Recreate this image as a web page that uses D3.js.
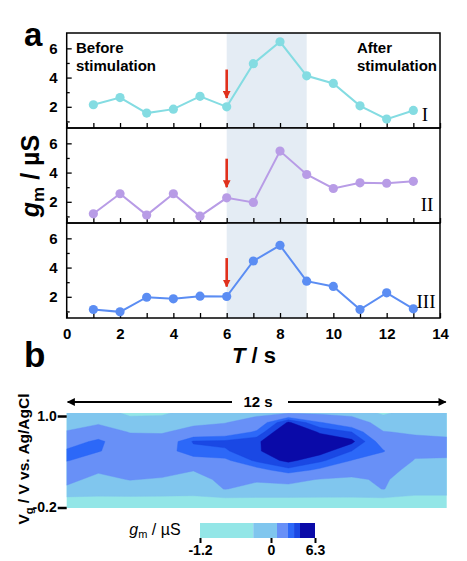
<!DOCTYPE html>
<html><head><meta charset="utf-8">
<script src="https://cdn.jsdelivr.net/npm/d3@7/dist/d3.min.js"></script>
<style>body{margin:0;background:#fff}svg{display:block}</style>
</head><body>
<svg id="c" width="467" height="561"></svg>
<script>
// ---------- data ----------
const timeSec = [1,2,3,4,5,6,7,8,9,10,11,12,13];
const seriesI   = [2.14, 2.63, 1.57, 1.84, 2.72, 2.00, 4.95, 6.45, 4.12, 3.60, 2.07, 1.16, 1.75];
const seriesII  = [1.18, 2.55, 1.09, 2.55, 1.02, 2.27, 1.96, 5.47, 3.87, 2.91, 3.30, 3.27, 3.40];
const seriesIII = [1.13, 0.97, 1.97, 1.86, 2.04, 2.02, 4.45, 5.52, 3.07, 2.71, 1.13, 2.27, 1.18];
const seriesNames = ["I", "II", "III"];
const xTicks = [0,1,2,3,4,5,6,7,8,9,10,11,12,13,14];
const yTicks = [2,4,6];
const yMinorTicks = [1,3,5];
const stimWindow = [6, 9];
const arrowFrom = [4.55, 4.95, 4.65];
const arrowTo = [2.6, 3.0, 2.7];

// panel b: contour map, rows = Vg from 1.0 to -0.2, cols = time 0..12 s
const heatTime = [0,1,2,3,4,5,6,7,8,9,10,11,12];
const heatVg = [1.0, 0.88, 0.76, 0.64, 0.52, 0.40, 0.28, 0.16, 0.04, -0.08, -0.2];
const gmGrid = [
  [ 0.4, 0.4,-0.6,-0.5, 0.2, 0.3, 0.5, 0.8, 0.6, 0.5,-0.5, 0.3, 0.3],
  [ 0.6, 0.7, 0.3, 0.3, 0.6, 0.8, 1.5, 4.3, 2.5, 1.5, 0.4, 0.5, 0.5],
  [ 0.9, 1.5, 0.8, 0.75,1.3, 1.6, 2.6, 5.5, 4.0, 3.3, 0.9, 0.75,0.7],
  [ 1.8, 2.7, 1.4, 1.4, 3.4, 3.5, 3.9, 5.8, 5.0, 4.4, 1.8, 1.1, 1.0],
  [ 2.6, 2.5, 1.8, 1.9, 3.0, 3.2, 3.9, 5.6, 4.6, 3.3, 2.5, 1.1, 1.0],
  [ 2.5, 1.8, 1.8, 1.8, 2.0, 2.2, 3.5, 4.4, 3.5, 2.4, 1.8, 0.8, 0.8],
  [ 1.5, 1.0, 1.5, 1.3, 0.9, 1.4, 2.0, 3.0, 2.2, 1.3, 1.3, 0.5, 0.5],
  [ 1.1, 0.6, 0.9, 0.75,0.5, 1.1, 1.0, 1.2, 0.8, 0.7, 1.0, 0.3, 0.3],
  [ 0.7, 0.3, 0.4, 0.3, 0.2, 0.9, 0.5, 0.5, 0.4, 0.3, 0.9, 0.1, 0.1],
  [-0.5,-0.5,-0.5,-0.5,-0.5,-0.4,-0.4,-0.4,-0.4,-0.4,-0.4,-0.5,-0.5],
  [-0.9,-0.9,-0.9,-0.9,-0.9,-0.9,-0.9,-0.9,-0.9,-0.9,-0.9,-0.9,-0.9]
];
const gmLevels = [-1.2, -0.3, 0.86, 2.43, 3.3, 4.15];
const gmColors = ["#93e6e7", "#80c6ee", "#6890f7", "#2c68f8", "#1a48e4", "#0a0aa8"];
const cbTickValues = [-1.2, 0, 6.3];

// ---------- layout ----------
const FONT = "Arial, 'Liberation Sans', sans-serif";
const SERIF = "'Times New Roman', 'Liberation Serif', serif";
const svg = d3.select("#c");
const L = 66.7, R = 440, T0 = 33, PH = 95;
const x = d3.scaleLinear().domain([0, 14]).range([L, R]);
const series = [seriesI, seriesII, seriesIII];
const colors = ["#84dce2", "#b89ce6", "#5b8df3"];
const numPos = [[425, 121], [427, 211], [426, 308]];

svg.append("defs").append("marker").attr("id","ah")
  .attr("viewBox","0 0 10 10").attr("refX",9).attr("refY",5)
  .attr("markerWidth",3).attr("markerHeight",3.2).attr("orient","auto")
  .append("path").attr("d","M0,0L10,5L0,10z").attr("fill","#e0301c");

series.forEach((vals, i) => {
  const top = T0 + i * PH, bot = top + PH;
  const y = d3.scaleLinear().domain([0.55, 7.05]).range([bot, top]);
  const g = svg.append("g");
  g.append("rect").attr("x", x(stimWindow[0])).attr("y", top)
    .attr("width", x(stimWindow[1]) - x(stimWindow[0])).attr("height", PH)
    .attr("fill", "#e4ecf4");
  const yAx = g.append("g").attr("transform", `translate(${L},0)`)
    .call(d3.axisLeft(y).tickValues(yTicks).tickSize(-5).tickPadding(9).tickFormat(d3.format("d")));
  const yAx2 = g.append("g").attr("transform", `translate(${L},0)`)
    .call(d3.axisLeft(y).tickValues(yMinorTicks).tickSize(-3).tickFormat(""));
  const xAx = g.append("g").attr("transform", `translate(0,${bot})`)
    .call(d3.axisBottom(x).tickValues(xTicks).tickSize(-5).tickPadding(10)
      .tickFormat(d => (i === 2 && d % 2 === 0) ? d : ""));
  [yAx, yAx2, xAx].forEach(a => {
    a.select(".domain").remove();
    a.selectAll("line").attr("stroke", "#000").attr("stroke-width", 1.3);
    a.selectAll("text").attr("font-family", FONT).attr("font-size", 15)
      .attr("font-weight", "bold").attr("fill", "#000");
  });
  g.append("rect").attr("x", L).attr("y", top).attr("width", R - L).attr("height", PH)
    .attr("fill", "none").attr("stroke", "#000").attr("stroke-width", 1.5);
  g.append("path").datum(vals)
    .attr("d", d3.line().x((d, k) => x(timeSec[k])).y(d => y(d)))
    .attr("fill", "none").attr("stroke", colors[i]).attr("stroke-width", 2);
  g.selectAll("circle").data(vals).join("circle")
    .attr("cx", (d, k) => x(timeSec[k])).attr("cy", d => y(d)).attr("r", 4.6)
    .attr("fill", colors[i]);
  g.append("line").attr("x1", x(6)).attr("x2", x(6))
    .attr("y1", y(arrowFrom[i])).attr("y2", y(arrowTo[i]))
    .attr("stroke", "#e0301c").attr("stroke-width", 2.6).attr("marker-end", "url(#ah)");
  g.append("text").attr("x", numPos[i][0]).attr("y", numPos[i][1])
    .attr("text-anchor", "middle").attr("font-family", SERIF).attr("font-size", 19)
    .attr("fill", "#000").text(seriesNames[i]);
});

const txt = (xx, yy, s, size, opts = {}) => svg.append("text").attr("x", xx).attr("y", yy)
  .attr("font-family", FONT).attr("font-size", size).attr("font-weight", "bold")
  .attr("text-anchor", opts.anchor || "start").attr("fill", "#000").text(s);

txt(76, 53, "Before", 15); txt(76, 71, "stimulation", 15);
txt(357, 53, "After", 15); txt(357, 71, "stimulation", 15);
txt(24, 46, "a", 33); txt(24, 367, "b", 35);

// y label
const yl = svg.append("text").attr("transform", "translate(39,176) rotate(-90)")
  .attr("text-anchor", "middle").attr("font-family", FONT).attr("font-weight", "bold")
  .attr("font-size", 25).attr("fill", "#000");
yl.append("tspan").attr("font-style", "italic").text("g");
yl.append("tspan").attr("font-size", 17).attr("dy", 5).text("m");
yl.append("tspan").attr("dy", -5).text(" / µS");

// x label
const xl = svg.append("text").attr("x", 254).attr("y", 363).attr("text-anchor", "middle")
  .attr("font-family", FONT).attr("font-weight", "bold").attr("font-size", 22).attr("fill", "#000");
xl.append("tspan").attr("font-style", "italic").text("T");
xl.append("tspan").text(" / s");

// ---------- panel b ----------
const HL = 66.7, HR = 446.7, HT = 413, HB = 508;
const xh = d3.scaleLinear().domain([heatTime[0], heatTime[heatTime.length - 1]]).range([HL, HR]);
const yh = d3.scaleLinear().domain([heatVg[0], heatVg[heatVg.length - 1]]).range([HT, HB]);
const nC = heatTime.length, nR = heatVg.length;
const flat = gmGrid.flat();
const contours = d3.contours().size([nC, nR]).thresholds(gmLevels)(flat);
const dT = heatTime[1] - heatTime[0], dV = heatVg[1] - heatVg[0];
const proj = d3.geoTransform({
  point: function(gx, gy) {
    this.stream.point(xh(heatTime[0] + (gx - 0.5) * dT), yh(heatVg[0] + (gy - 0.5) * dV));
  }
});
svg.select("defs").append("clipPath").attr("id", "hc")
  .append("rect").attr("x", HL).attr("y", HT).attr("width", HR - HL).attr("height", HB - HT);
const cScale = d3.scaleThreshold().domain(gmLevels.slice(1)).range(gmColors);
svg.append("g").attr("clip-path", "url(#hc)").selectAll("path").data(contours).join("path")
  .attr("d", d3.geoPath(proj)).attr("fill", d => cScale(d.value))
  .attr("stroke", d => cScale(d.value)).attr("stroke-width", 0.4);

const yhAx = svg.append("g").attr("transform", `translate(${HL},3)`)
  .call(d3.axisLeft(yh).tickValues([1.0, -0.2]).tickSize(9).tickPadding(1));
yhAx.select(".domain").remove();
yhAx.selectAll("line").attr("stroke", "#000").attr("stroke-width", 2.5);
yhAx.selectAll("text").attr("font-family", FONT).attr("font-size", 14).attr("font-weight", "bold")
  .attr("fill", "#000").text(d => d < 0 ? "-" + Math.abs(d).toFixed(1) : d.toFixed(1));
yhAx.selectAll(".tick").filter(d => d < 0).attr("transform", `translate(0,${yh(-0.2) - 3})`);

// 12 s double arrow
svg.select("defs").append("marker").attr("id", "bh")
  .attr("viewBox", "0 0 10 10").attr("refX", 9).attr("refY", 5)
  .attr("markerWidth", 5).attr("markerHeight", 4).attr("orient", "auto-start-reverse")
  .append("path").attr("d", "M0,0L10,5L0,10z").attr("fill", "#000");
svg.append("line").attr("x1", xh(0) + 1).attr("x2", 232).attr("y1", 402).attr("y2", 402)
  .attr("stroke", "#000").attr("stroke-width", 2).attr("marker-start", "url(#bh)");
svg.append("line").attr("x1", 288).attr("x2", xh(12) - 1).attr("y1", 402).attr("y2", 402)
  .attr("stroke", "#000").attr("stroke-width", 2).attr("marker-end", "url(#bh)");
txt(258, 407, "12 s", 15, { anchor: "middle" });

// y label panel b
const vl = svg.append("text").attr("transform", "translate(29,459) rotate(-90)")
  .attr("text-anchor", "middle").attr("font-family", FONT).attr("font-weight", "bold")
  .attr("font-size", 15.5).attr("fill", "#000");
vl.append("tspan").text("V");
vl.append("tspan").attr("font-size", 11).attr("dy", 4).text("g");
vl.append("tspan").attr("dy", -4).text(" / V vs. Ag/AgCl");

// colorbar
const cb = d3.scaleLinear().domain([-1.2, 0, 6.3]).range([200, 271, 315]);
const CBT = 523, CBH = 15;
const segs = gmLevels.map((v, k) => [v, k + 1 < gmLevels.length ? gmLevels[k + 1] : 6.3]);
svg.append("g").selectAll("rect").data(segs).join("rect")
  .attr("x", d => cb(d[0])).attr("y", CBT).attr("width", d => cb(d[1]) - cb(d[0]))
  .attr("height", CBH).attr("fill", (d, k) => gmColors[k]);
const cbAx = svg.append("g").attr("transform", `translate(0,${CBT + CBH})`)
  .call(d3.axisBottom(cb).tickValues(cbTickValues).tickSize(5).tickPadding(2)
    .tickFormat(d => d < 0 ? "-" + Math.abs(d).toFixed(1) : (d === 0 ? "0" : d.toFixed(1))));
cbAx.select(".domain").remove();
cbAx.selectAll("line").attr("stroke", "#000").attr("stroke-width", 2);
cbAx.selectAll("text").attr("font-family", FONT).attr("font-size", 14).attr("font-weight", "bold").attr("fill", "#000");

const cl = svg.append("text").attr("x", 155).attr("y", 535).attr("text-anchor", "middle")
  .attr("font-family", FONT).attr("font-size", 16).attr("fill", "#000");
cl.append("tspan").attr("font-style", "italic").text("g");
cl.append("tspan").attr("font-size", 11).attr("dy", 3).text("m");
cl.append("tspan").attr("dy", -3).text(" / µS");
</script>
</body></html>
